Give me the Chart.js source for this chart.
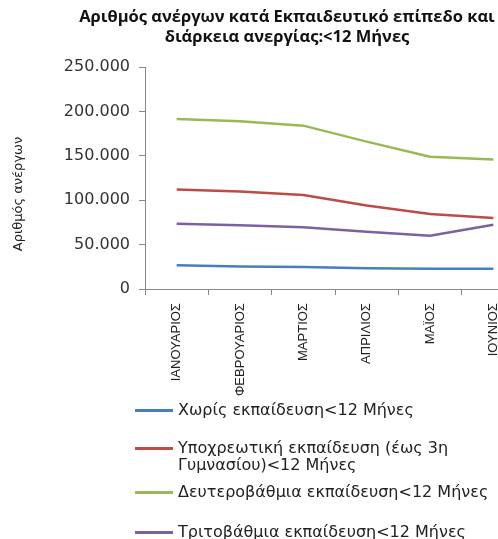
<!DOCTYPE html>
<html>
<head>
<meta charset="utf-8">
<script src="https://cdn.jsdelivr.net/npm/chart.js@4.4.0/dist/chart.umd.min.js"></script>
<style>
  html, body { margin: 0; padding: 0; background: #fff; overflow: hidden; }
  #wrap { position: absolute; left: 0; top: 0; width: 574px; height: 404px; }
  #title { position: absolute; left: 0; top: 6px; width: 574px; text-align: center;
           font-family: 'Open Sans', sans-serif; font-weight: bold; font-size: 16.5px;
           line-height: 20px; color: #111; }
  #legend { position: absolute; left: 135px; top: 401px; width: 380px;
            font-family: 'DejaVu Sans', sans-serif; font-size: 16px; color: #222; }
  .item { position: absolute; left: 0; width: 380px; line-height: 17px; }
  .item span.sw { position: absolute; left: 0; top: 8px; width: 38px; height: 3px; }
  .item span.tx { display: block; margin-left: 43px; width: 330px; }
</style>
</head>
<body>
<div id="wrap"><canvas id="myChart"></canvas></div>
<div id="title">Αριθμός ανέργων κατά  Εκπαιδευτικό επίπεδο και<br>διάρκεια ανεργίας:&lt;12 Μήνες</div>
<div id="legend"></div>
<script>
const months = ['ΙΑΝΟΥΑΡΙΟΣ', 'ΦΕΒΡΟΥΑΡΙΟΣ', 'ΜΑΡΤΙΟΣ', 'ΑΠΡΙΛΙΟΣ', 'ΜΑΪΟΣ', 'ΙΟΥΝΙΟΣ'];

const seriesNames = [
    'Χωρίς εκπαίδευση<12 Μήνες',
    'Υποχρεωτική εκπαίδευση (έως 3η Γυμνασίου)<12 Μήνες',
    'Δευτεροβάθμια εκπαίδευση<12 Μήνες',
    'Τριτοβάθμια εκπαίδευση<12 Μήνες'
];

const xorisEkp = [27000, 25500, 25000, 23500, 23000, 23000];
const ypoxreotiki = [112000, 110000, 106000, 94000, 84500, 80000];
const defterovathmia = [191500, 189000, 184000, 166000, 149000, 146000];
const tritovathmia = [73500, 72000, 69500, 64500, 60000, 72500];

const yTitle = 'Αριθμός ανέργων';

const colors = ['#4A7EBB', '#BE4B48', '#98B954', '#7D60A0'];
const allData = [xorisEkp, ypoxreotiki, defterovathmia, tritovathmia];

const ctx = document.getElementById('myChart');

let datasets = allData.map(function (d, i) {
    return {
        label: seriesNames[i],
        data: d,
        borderColor: colors[i],
        backgroundColor: colors[i],
        borderWidth: 2.5,
        pointRadius: 0,
        tension: 0
    };
});

// y axis title sits a bit below the middle, like in the excel chart
const yTitlePlugin = {
    id: 'yTitle',
    afterDraw: function (chart) {
        const c = chart.ctx;
        c.save();
        c.translate(19, 194);
        c.rotate(-Math.PI / 2);
        c.font = "13px 'DejaVu Sans', sans-serif";
        c.fillStyle = '#222';
        c.textAlign = 'center';
        c.textBaseline = 'middle';
        c.fillText(yTitle, 0, 0);
        c.restore();
    }
};

const myChart = new Chart(ctx, {
    type: 'line',
    data: {
        labels: months,
        datasets: datasets
    },
    options: {
        responsive: true,
        maintainAspectRatio: false,
        animation: false,
        layout: {
            padding: { left: 10, right: 49, top: 67, bottom: 0 }
        },
        plugins: {
            legend: { display: false },
            tooltip: { enabled: false }
        },
        scales: {
            x: {
                offset: true,
                grid: { display: true, drawOnChartArea: false, tickLength: 6, color: '#888', offset: true },
                border: { color: '#888' },
                ticks: {
                    minRotation: 90,
                    maxRotation: 90,
                    color: '#222',
                    padding: 8,
                    font: { family: "'Liberation Sans', sans-serif", size: 13 }
                }
            },
            y: {
                min: 0,
                max: 250000,
                afterFit: function (axis) { axis.width = 135; },
                grid: { display: true, drawOnChartArea: false, tickLength: 6, color: '#888' },
                border: { color: '#888' },
                ticks: {
                    stepSize: 50000,
                    color: '#333',
                    padding: 9,
                    font: { family: "'DejaVu Sans', sans-serif", size: 16 },
                    callback: function (v) {
                        return String(v).replace(/\B(?=(\d{3})+(?!\d))/g, '.');
                    }
                }
            }
        }
    },
    plugins: [yTitlePlugin]
});

// legend built from the same series arrays
const legendTops = [0, 38, 82, 122];
const legendDiv = document.getElementById('legend');
seriesNames.forEach(function (name, i) {
    const item = document.createElement('div');
    item.className = 'item';
    item.style.top = legendTops[i] + 'px';
    let sw = document.createElement('span');
    sw.className = 'sw';
    sw.style.background = colors[i];
    let tx = document.createElement('span');
    tx.className = 'tx';
    tx.textContent = name;
    item.appendChild(sw);
    item.appendChild(tx);
    legendDiv.appendChild(item);
});
</script>
</body>
</html>
